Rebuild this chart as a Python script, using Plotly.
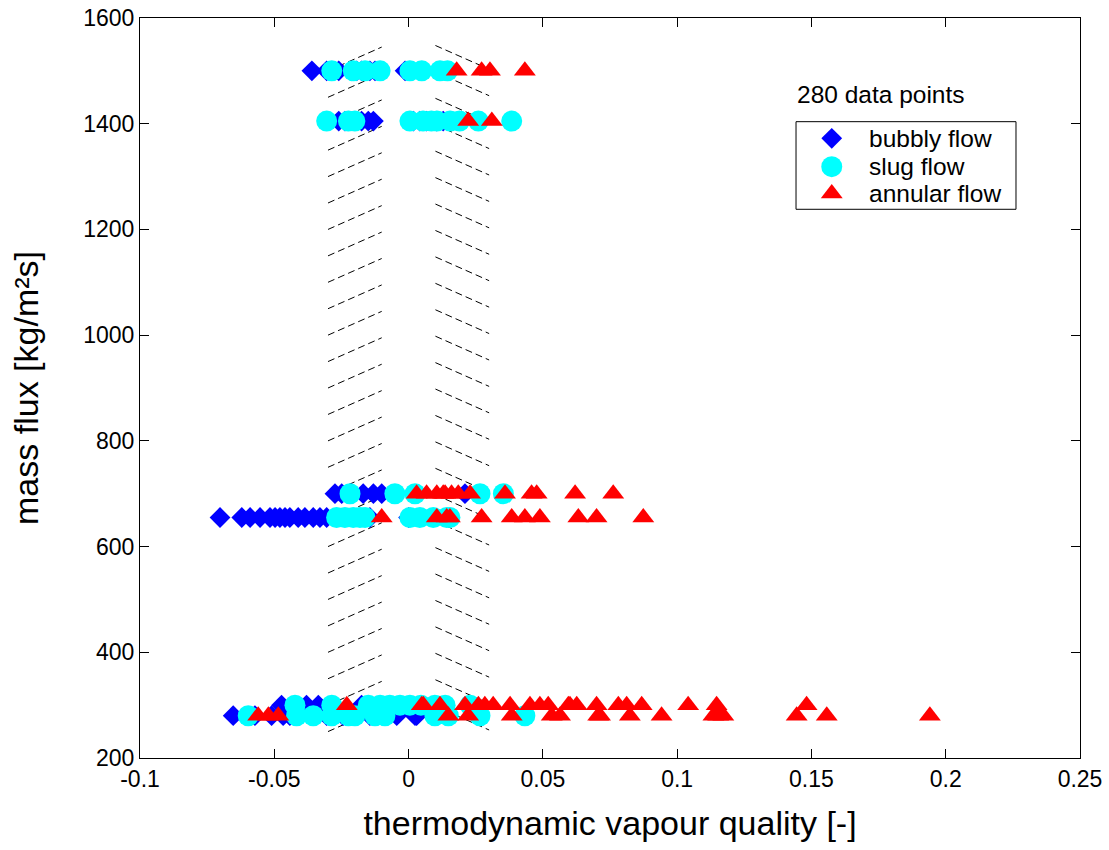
import plotly.graph_objects as go

# ---- data ----
bubbly_1500 = [-0.036, -0.0305, -0.026, -0.0212, -0.0193, -0.0175, -0.0144, -0.0125, -0.0013]
bubbly_1405 = [-0.026, -0.0237, -0.0175, -0.015, -0.0131, 0.0018, 0.0042, 0.0067, 0.0105, 0.0129]
bubbly_700 = [-0.0274, -0.0249, -0.0212, -0.0169, -0.0131, -0.01, 0.021]
bubbly_655 = [-0.0702, -0.0621, -0.059, -0.0553, -0.0516, -0.0497, -0.0479, -0.046, -0.0442,
              -0.0411, -0.0386, -0.0355, -0.033, -0.0305, -0.0144, 0.0]
bubbly_300 = [-0.0473, -0.038, -0.0336, -0.0175]
bubbly_280 = [-0.0653, -0.0572, -0.051, -0.0467, -0.0442, -0.0305, -0.0244, -0.0144, -0.0044, 0.0024, 0.003]

slug_1500 = [-0.0286, -0.0206, -0.0162, -0.0106, 0.0005, 0.0049, 0.0117, 0.0145]
slug_1405 = [-0.0305, -0.0224, -0.02, 0.0005, 0.0054, 0.0085, 0.0106, 0.0155, 0.019, 0.026, 0.0384]
slug_700 = [-0.0218, -0.0051, 0.0024, 0.0266, 0.0353]
slug_655 = [-0.0268, -0.0237, -0.0206, -0.0181, -0.0162, 0.0005, 0.0042, 0.0092, 0.0142, 0.0154]
slug_300 = [-0.0423, -0.0286, -0.015, -0.0106, -0.007, -0.0032, 0.0005, 0.0046, 0.0098, 0.0136, 0.0229]
slug_280 = [-0.0597, -0.0417, -0.0355, -0.0286, -0.0224, -0.02, -0.0125, -0.0088, 0.0098, 0.0148,
            0.0266, 0.0433]

annular_1500 = [0.0179, 0.0272, 0.0303, 0.0433]
annular_1405 = [0.0222, 0.031]
annular_700 = [0.003, 0.0067, 0.0105, 0.0129, 0.0136, 0.016, 0.0185, 0.0229, 0.0359, 0.0458, 0.0477,
               0.062, 0.0762]
annular_655 = [-0.01, 0.0105, 0.0142, 0.0154, 0.0272, 0.0384, 0.0433, 0.0489, 0.0632, 0.07, 0.0874]
annular_300 = [-0.023, 0.0049, 0.0055, 0.0117, 0.021, 0.026, 0.0284, 0.0315, 0.0378, 0.0452, 0.0489,
               0.052, 0.0595, 0.0601, 0.0626, 0.07, 0.0781, 0.0812, 0.0868, 0.1041, 0.1147, 0.1482]
annular_280 = [-0.056, -0.0522, -0.0485, 0.0148, 0.0222, 0.0384, 0.0533, 0.0564, 0.0706, 0.0713,
               0.0824, 0.0942, 0.1135, 0.1153, 0.1172, 0.1445, 0.1557, 0.1941]

mass_flux_levels = [1500, 1405, 700, 655, 300, 280]

# hatched band boundaries (quality) and hatch levels (mass flux)
band_left = [-0.03, -0.01]
band_right = [0.01, 0.03]
hatch_levels = [250, 300, 350, 400, 450, 500, 550, 600, 650, 700, 750, 800, 850, 900, 950,
                1000, 1050, 1100, 1150, 1200, 1250, 1300, 1350, 1400, 1450, 1500]
hatch_rise = 45

x_ticks = [-0.1, -0.05, 0, 0.05, 0.1, 0.15, 0.2, 0.25]
x_ticktext = ["-0.1", "-0.05", "0", "0.05", "0.1", "0.15", "0.2", "0.25"]
y_ticks = [200, 400, 600, 800, 1000, 1200, 1400, 1600]

series_names = ["bubbly flow", "slug flow", "annular flow"]
series_colors = ["#0000FF", "#00FFFF", "#FF0000"]
series_symbols = ["diamond", "circle", "triangle-up"]
series_sizes = [16, 21, 19]
note_text = "280 data points"


def build(groups):
    xs, ys = [], []
    for g, vals in zip(mass_flux_levels, groups):
        xs += vals
        ys += [g] * len(vals)
    return xs, ys


series_xy = [
    build([bubbly_1500, bubbly_1405, bubbly_700, bubbly_655, bubbly_300, bubbly_280]),
    build([slug_1500, slug_1405, slug_700, slug_655, slug_300, slug_280]),
    build([annular_1500, annular_1405, annular_700, annular_655, annular_300, annular_280]),
]

FONT = "Liberation Sans, Arial, sans-serif"

fig = go.Figure()
for (xs, ys), name, col, sym, sz in zip(series_xy, series_names, series_colors, series_symbols, series_sizes):
    fig.add_trace(go.Scatter(x=xs, y=ys, mode="markers", name=name,
                             marker=dict(symbol=sym, size=sz, color=col, line=dict(width=0))))

shapes = []
for h in hatch_levels:
    shapes.append(dict(type="line", xref="x", yref="y", layer="below",
                       x0=band_left[0], y0=h, x1=band_left[1], y1=h + hatch_rise,
                       line=dict(color="black", width=1, dash="7px,4px")))
    shapes.append(dict(type="line", xref="x", yref="y", layer="below",
                       x0=band_right[0], y0=h + hatch_rise + 3, x1=band_right[1], y1=h + 3,
                       line=dict(color="black", width=1, dash="7px,4px")))

# compact MATLAB-style legend box (layout positions in plot-area fractions)
leg_x0, leg_x1, leg_y0, leg_y1 = 0.6979, 0.9319, 0.7415, 0.8599
leg_rows = [0.8374, 0.7991, 0.7628]
leg_sym_x, leg_txt_x = 0.7359, 0.7737
shapes.append(dict(type="rect", xref="paper", yref="paper", x0=leg_x0, x1=leg_x1, y0=leg_y0, y1=leg_y1,
                   line=dict(color="black", width=1), fillcolor="white", layer="below"))

# legend keys on an invisible overlay axis spanning the plot area 0..1
for name, col, sym, sz, yy in zip(series_names, series_colors, series_symbols, series_sizes, leg_rows):
    fig.add_trace(go.Scatter(x=[leg_sym_x], y=[yy], xaxis="x2", yaxis="y2", mode="markers",
                             name=name + " (key)", showlegend=False, hoverinfo="skip",
                             marker=dict(symbol=sym, size=sz, color=col, line=dict(width=0))))

annotations = [dict(text=note_text, xref="paper", yref="paper", x=0.7888, y=0.8970,
                    xanchor="center", yanchor="middle", showarrow=False,
                    font=dict(family=FONT, size=24.5, color="black"))]
for name, yy in zip(series_names, leg_rows):
    annotations.append(dict(text=name, xref="paper", yref="paper", x=leg_txt_x, y=yy,
                            xanchor="left", yanchor="middle", showarrow=False,
                            font=dict(family=FONT, size=24.5, color="black")))

fig.update_layout(
    width=1109, height=850,
    margin=dict(l=140, r=29, t=18, b=92, autoexpand=False),
    paper_bgcolor="white", plot_bgcolor="white",
    font=dict(family=FONT, size=24, color="black"),
    showlegend=False,
    shapes=shapes,
    annotations=annotations,
    xaxis2=dict(overlaying="x", range=[0, 1], visible=False, fixedrange=True),
    yaxis2=dict(overlaying="y", range=[0, 1], visible=False, fixedrange=True),
)
fig.update_xaxes(selector=dict(anchor="y"))
fig.update_layout(
    xaxis=dict(range=[-0.1, 0.25], tickvals=x_ticks, ticktext=x_ticktext, automargin=False,
               ticks="inside", ticklen=9, tickcolor="black", showline=True, linecolor="black",
               linewidth=1, mirror="ticks", showgrid=False, zeroline=False,
               tickfont=dict(family=FONT, size=23),
               title=dict(text="thermodynamic vapour quality [-]",
                          font=dict(family=FONT, size=34), standoff=20)),
    yaxis=dict(range=[200, 1600], tickvals=y_ticks, automargin=False,
               ticks="inside", ticklen=9, tickcolor="black", showline=True, linecolor="black",
               linewidth=1, mirror="ticks", showgrid=False, zeroline=False,
               tickfont=dict(family=FONT, size=23),
               title=dict(text="mass flux [kg/m²s]",
                          font=dict(family=FONT, size=34), standoff=34)),
)

fig.write_html("out.html")
